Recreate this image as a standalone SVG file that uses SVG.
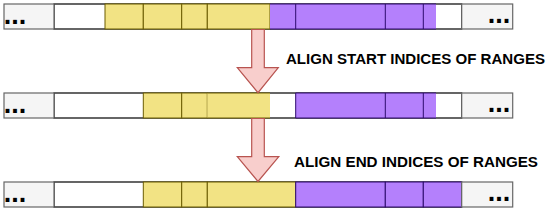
<svg xmlns="http://www.w3.org/2000/svg" width="550" height="213" viewBox="0 0 550 213">
<style>
.g{fill:#f5f5f5;stroke:#666666;stroke-width:1.2}
.w{fill:#ffffff;stroke:#000000;stroke-width:1.2}
.y{fill:#f2e384;stroke:#6b5c00;stroke-width:1}
.p{fill:#b480fc;stroke:#2e0a6e;stroke-width:1}
.dots{font-family:"Liberation Sans",Arial,sans-serif;font-weight:bold;font-size:27px;fill:#000}
.lbl{font-family:"Liberation Sans",Arial,sans-serif;font-weight:bold;font-size:14px;fill:#000}
.arr{fill:#f8cecc;stroke:#b85450;stroke-width:1.2}
</style>
<rect width="550" height="213" fill="#ffffff"/>
<g id="row1">
<rect class="w" x="54" y="4" width="407.7" height="25"/>
<rect class="y" x="105" y="4" width="38.3" height="25"/>
<rect class="y" x="143.3" y="4" width="38.4" height="25"/>
<rect class="y" x="181.7" y="4" width="25.6" height="25"/>
<rect class="y" x="207.3" y="4" width="62.7" height="25"/>
<rect class="p" x="270" y="4" width="166" height="25" style="stroke:none"/>
<line x1="270" y1="4" x2="436" y2="4" stroke="#2e0a6e"/>
<line x1="270" y1="29" x2="436" y2="29" stroke="#2e0a6e"/>
<line x1="295.7" y1="4" x2="295.7" y2="29" stroke="#2e0a6e"/>
<line x1="385.3" y1="4" x2="385.3" y2="29" stroke="#2e0a6e"/>
<line x1="423.3" y1="4" x2="423.3" y2="29" stroke="#2e0a6e"/>
<line x1="461.7" y1="4" x2="461.7" y2="29" stroke="#000"/>
<rect class="g" x="4" y="4" width="50" height="25"/>
<rect class="g" x="461.7" y="4" width="51" height="25"/>
<text class="dots" x="3.8" y="24.3">...</text>
<text class="dots" x="510.2" y="23.3" text-anchor="end">...</text>
</g>
<g id="row2">
<rect class="w" x="54" y="93" width="407.7" height="25"/>
<rect class="y" x="143.3" y="93" width="38.4" height="25"/>
<rect class="y" x="181.7" y="93" width="25.6" height="25"/>
<rect class="y" x="207.3" y="93" width="62.7" height="25" style="stroke:none"/>
<line x1="207.3" y1="93" x2="270" y2="93" stroke="#6b5c00"/>
<line x1="207.3" y1="118" x2="270" y2="118" stroke="#6b5c00"/>
<rect class="p" x="295.7" y="93" width="140.3" height="25" style="stroke:none"/>
<line x1="295.7" y1="93" x2="436" y2="93" stroke="#2e0a6e"/>
<line x1="295.7" y1="118" x2="436" y2="118" stroke="#2e0a6e"/>
<line x1="295.7" y1="93" x2="295.7" y2="118" stroke="#2e0a6e"/>
<line x1="385.3" y1="93" x2="385.3" y2="118" stroke="#2e0a6e"/>
<line x1="423.3" y1="93" x2="423.3" y2="118" stroke="#2e0a6e"/>
<rect class="g" x="4" y="93" width="50" height="25"/>
<rect class="g" x="461.7" y="93" width="51" height="25"/>
<text class="dots" x="3.8" y="113.3">...</text>
<text class="dots" x="510.2" y="112.3" text-anchor="end">...</text>
</g>
<g id="row3">
<rect class="w" x="54" y="182" width="407.7" height="25"/>
<rect class="y" x="143.3" y="182" width="38.4" height="25"/>
<rect class="y" x="181.7" y="182" width="25.6" height="25"/>
<rect class="y" x="207.3" y="182" width="88.4" height="25"/>
<rect class="p" x="295.7" y="182" width="89.6" height="25"/>
<rect class="p" x="385.3" y="182" width="38" height="25"/>
<rect class="p" x="423.3" y="182" width="38.4" height="25"/>
<rect class="g" x="4" y="182" width="50" height="25"/>
<rect class="g" x="461.7" y="182" width="51" height="25"/>
<text class="dots" x="3.8" y="202.3">...</text>
<text class="dots" x="510.2" y="201.3" text-anchor="end">...</text>
</g>
<g id="connectors">
<path class="arr" d="M251.7,29.5 L264.3,29.5 L264.3,67.7 L278.3,67.7 L258,92.7 L237.3,67.7 L251.7,67.7 Z"/>
<path class="arr" d="M251.7,118.5 L264.3,118.5 L264.3,156.7 L278.8,156.7 L258,181.5 L237.3,156.7 L251.7,156.7 Z"/>
</g>
<g id="labels">
<text class="lbl" x="286" y="64" textLength="259" lengthAdjust="spacingAndGlyphs">ALIGN START INDICES OF RANGES</text>
<text class="lbl" x="294" y="166.5" textLength="244" lengthAdjust="spacingAndGlyphs">ALIGN END INDICES OF RANGES</text>
</g>
</svg>
